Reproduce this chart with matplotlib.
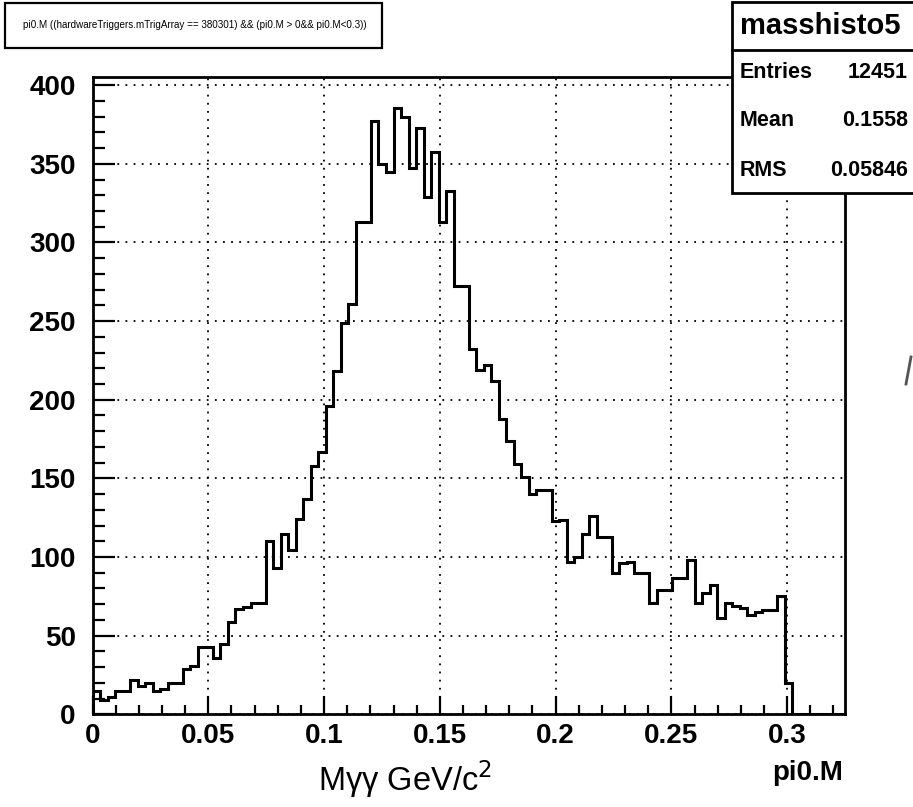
import numpy as np
import matplotlib
matplotlib.use("Agg")
import matplotlib.pyplot as plt
from matplotlib.ticker import MultipleLocator, FixedLocator
from matplotlib.patches import Rectangle

# bin contents of masshisto5 (100 bins, 0 .. 0.325)
counts = [14.5, 9, 11, 14.5, 14.5, 22, 17.7, 20, 14.5, 16,
          20, 20, 29, 31, 43, 43, 36, 45, 59, 67,
          68, 71, 71, 110.5, 93, 114.5, 104.6, 124, 137, 157.6,
          167, 196, 218, 249, 261, 313, 313, 377, 349.6, 344.7,
          385.7, 380, 347.5, 372.5, 328.8, 357.7, 313, 332.6, 272, 272,
          232, 219, 222, 212, 188, 173.5, 159, 151, 140, 142.8,
          142.8, 122.6, 123.7, 97, 100, 114.5, 126, 112.6, 112.6, 89.7,
          96, 97, 89.7, 89.7, 70.6, 79, 79, 86.5, 86.5, 98,
          70.6, 77, 82.3, 61, 70.6, 69, 67.5, 63, 65, 66.4,
          66.4, 75, 20, 0, 0, 0, 0, 0, 0, 0]
x_lo = 0.0
x_hi = 0.325
n_bins = 100
xticks = [0, 0.05, 0.1, 0.15, 0.2, 0.25, 0.3]
xticklabels = ["0", "0.05", "0.1", "0.15", "0.2", "0.25", "0.3"]
yticks = [0, 50, 100, 150, 200, 250, 300, 350, 400]

title = "pi0.M ((hardwareTriggers.mTrigArray == 380301) && (pi0.M > 0&& pi0.M<0.3))"
stat_name = "masshisto5"
stat_rows = [("Entries", "12451"), ("Mean", "0.1558"), ("RMS", "0.05846")]

plt.rcParams['font.family'] = ['Liberation Sans', 'DejaVu Sans']

W, H = 913, 807
fig = plt.figure(figsize=(W / 100, H / 100), dpi=100)
ax = fig.add_axes([92.5 / W, 1 - 714.3 / H, (845 - 92.5) / W, (714.3 - 77.3) / H])

edges = np.linspace(x_lo, x_hi, n_bins + 1)
ax.stairs(counts, edges, color='black', lw=2.2)

ax.set_xlim(x_lo, x_hi)
ax.set_ylim(0, 405)
ax.xaxis.set_major_locator(FixedLocator(xticks))
ax.set_xticklabels(xticklabels)
ax.xaxis.set_minor_locator(MultipleLocator(0.01))
ax.yaxis.set_major_locator(FixedLocator(yticks))
ax.yaxis.set_minor_locator(MultipleLocator(10))

ax.grid(True, which='major', ls=(0, (1, 3.5)), color='black', lw=1.3)
for s in ax.spines.values():
    s.set_linewidth(2)
ax.tick_params(axis='y', which='major', direction='in', length=16, width=1.6,
               labelsize=20, pad=12)
ax.tick_params(axis='y', which='minor', direction='in', length=8.5, width=1.6)
ax.tick_params(axis='x', which='major', direction='in', length=13, width=1.6,
               labelsize=20, pad=6)
ax.tick_params(axis='x', which='minor', direction='in', length=6.5, width=1.6)
for lab in ax.get_xticklabels() + ax.get_yticklabels():
    lab.set_fontweight('bold')

# axis labels
fig.text(405 / W, 1 - 779 / H, "M\u03b3\u03b3 GeV/c$^2$", fontsize=23.5,
         ha='center', va='center')
fig.text(843 / W, 1 - 773 / H, "pi0.M", fontsize=20, fontweight='bold',
         ha='right', va='center')

# stray stroke at the right edge of the scan
fig.lines.append(plt.Line2D([906 / W, 911 / W], [1 - 384 / H, 1 - 357 / H],
                            transform=fig.transFigure, color='#555555', lw=2))

# title box
fig.patches.append(Rectangle((5 / W, 1 - 48 / H), 377 / W, 45 / H,
                             transform=fig.transFigure, fill=True, fc='white',
                             ec='black', lw=1.6))
fig.text(194.5 / W, 1 - 25.5 / H, title, fontsize=7.1, ha='center', va='center')

# stats box
fig.patches.append(Rectangle((731.7 / W, 1 - 193 / H), 300 / W, 191 / H,
                             transform=fig.transFigure, fill=True, fc='white',
                             ec='black', lw=2, zorder=5))
fig.lines.append(plt.Line2D([731.7 / W, 1.1], [1 - 50 / H, 1 - 50 / H],
                            transform=fig.transFigure, color='black', lw=2, zorder=6))
fig.text(740 / W, 1 - 26 / H, stat_name, fontsize=21, fontweight='bold',
         ha='left', va='center', zorder=7)
for (name, val), yy in zip(stat_rows, [72, 121, 171]):
    fig.text(740 / W, 1 - yy / H, name, fontsize=15.5, fontweight='bold',
             ha='left', va='center', zorder=7)
    fig.text(908 / W, 1 - yy / H, val, fontsize=15.5, fontweight='bold',
             ha='right', va='center', zorder=7)

fig.savefig("out.png", dpi=100)
